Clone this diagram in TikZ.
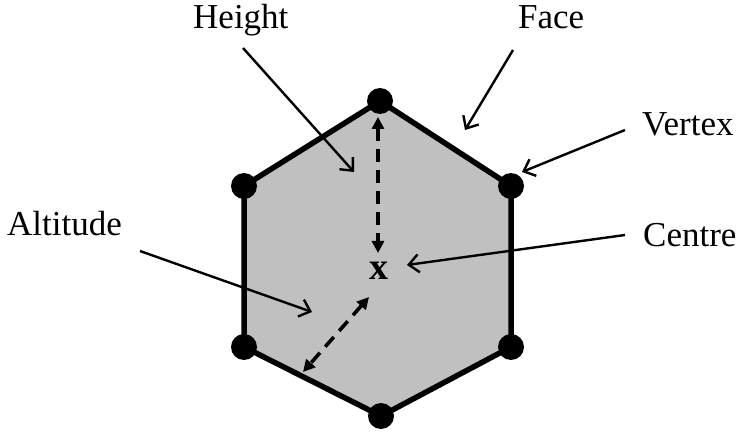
\documentclass[tikz,border=0pt]{standalone}
\usepackage{fontspec}
\setmainfont{Liberation Serif}
\usetikzlibrary{arrows.meta}
\begin{document}
\begin{tikzpicture}[x=1pt,y=-1pt,
  lbl/.style={anchor=base west,inner sep=0pt,font=\fontsize{35}{40}\selectfont},
  edge/.style={line width=5.5pt,line join=miter},
  vdot/.style={fill=black},
  dashedarrow/.style={line width=3.6pt,dash pattern=on 13pt off 8pt,{Triangle[length=12pt,width=12pt]}-{Triangle[length=12pt,width=12pt]}},
  pointer/.style={line width=2.4pt,-{Straight Barb[length=10pt,width=18pt,line width=2.4pt]}}]
\useasboundingbox (0,0) rectangle (740,433);
% vertices
\coordinate (vT) at (380,101);
\coordinate (vUR) at (511,186);
\coordinate (vLR) at (511,347);
\coordinate (vB) at (381,416);
\coordinate (vLL) at (244,347);
\coordinate (vUL) at (244,186);
\fill[fill={rgb,255:red,192;green,192;blue,192}] (vT) -- (vUR) -- (vLR) -- (vB) -- (vLL) -- (vUL) -- cycle;
\draw[edge] (vT) -- (vUR) -- (vLR) -- (vB) -- (vLL) -- (vUL) -- cycle;
\foreach \v in {vT,vUR,vLR,vB,vLL,vUL} \fill[vdot] (\v) circle (13);
% centre
\node[inner sep=0pt,font=\fontsize{38}{40}\selectfont\bfseries] (cx) at (379,271) {x};
% dashed arrows
\coordinate (hTop) at (378,117);
\coordinate (hBot) at (378,253);
\draw[dashedarrow] (hTop) -- (hBot);
\coordinate (aTop) at (369,297);
\coordinate (aBot) at (303,372);
\draw[dashedarrow] (aTop) -- (aBot);
% labels
\node[lbl] (height) at (193,29) {Height};
\node[lbl] (face) at (518,29) {Face};
\node[lbl] (vertex) at (642,136) {Vertex};
\node[lbl] (centre) at (643,247) {Centre};
\node[lbl] (altitude) at (7,236) {Altitude};
% pointer lines
\coordinate (pHs) at (243,48);  \coordinate (pHe) at (354,172);
\coordinate (pFs) at (513,50);  \coordinate (pFe) at (465,130);
\coordinate (pVs) at (625,130); \coordinate (pVe) at (522,172);
\coordinate (pCs) at (625,235); \coordinate (pCe) at (407,265);
\coordinate (pAs) at (140,251); \coordinate (pAe) at (312,312);
\draw[pointer] (pHs) -- (pHe);
\draw[pointer] (pFs) -- (pFe);
\draw[pointer] (pVs) -- (pVe);
\draw[pointer] (pCs) -- (pCe);
\draw[pointer] (pAs) -- (pAe);
\end{tikzpicture}
\end{document}
